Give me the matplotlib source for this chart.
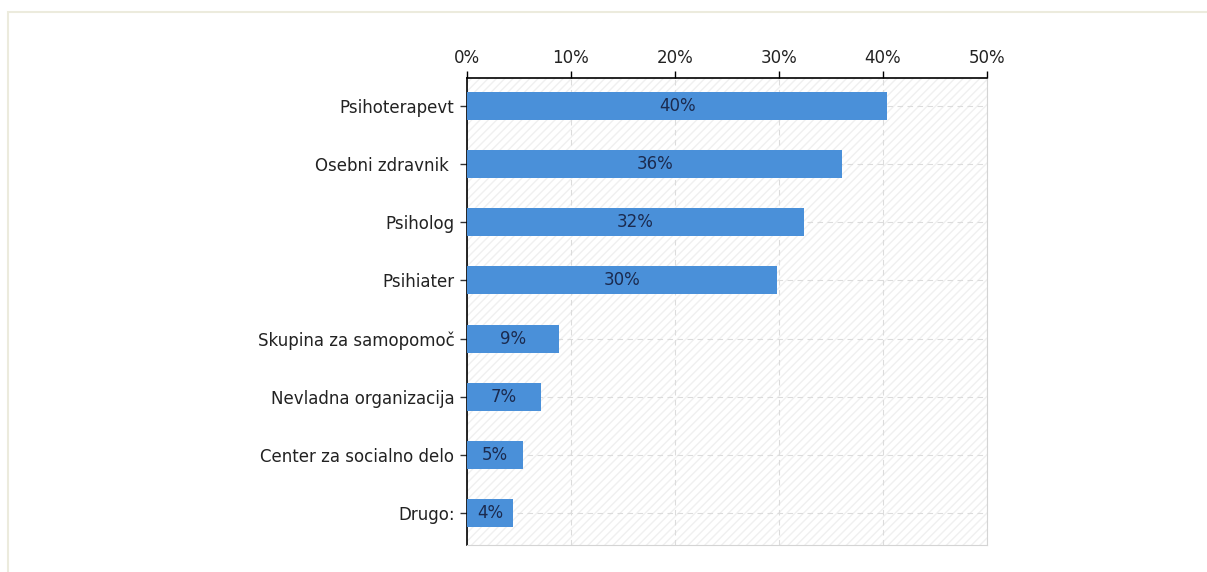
import matplotlib
matplotlib.use("Agg")
import matplotlib.pyplot as plt
from matplotlib.patches import Rectangle

plt.rcParams["font.family"] = ["DejaVu Sans"]

categories = [
    "Psihoterapevt",
    "Osebni zdravnik ",
    "Psiholog",
    "Psihiater",
    "Skupina za samopomoč",
    "Nevladna organizacija",
    "Center za socialno delo",
    "Drugo:",
]
values = [40.4, 36.1, 32.4, 29.8, 8.8, 7.1, 5.4, 4.4]
xticks = [0, 10, 20, 30, 40, 50]
xtick_labels = ["0%", "10%", "20%", "30%", "40%", "50%"]

W, H = 1207, 572
fig = plt.figure(figsize=(W / 100, H / 100), dpi=100)
fig.patch.set_facecolor("white")

# outer frame
fig.patches.append(Rectangle((8 / W, -0.05), (W - 8 + 20) / W, 1.05 - 12 / H,
                             transform=fig.transFigure, fill=False,
                             edgecolor="#ecebdd", linewidth=1.5))

ax = fig.add_axes([467 / W, 1 - 545 / H, 520 / W, 467 / H])
ax.patch.set_facecolor("white")
ax.patch.set_hatch("////")
ax.patch.set_edgecolor("#f0f0f0")
ax.patch.set_linewidth(0)

ypos = list(range(len(categories)))
ax.barh(ypos, values, height=0.48, color="#4a90d9", zorder=3)
for y, v in zip(ypos, values):
    ax.text(v / 2, y, f"{round(v):d}%", ha="center", va="center",
            fontsize=12, color="#1b2a4e", zorder=4)

ax.set_xlim(0, 50)
ax.set_ylim(7.55, -0.48)
ax.set_xticks(xticks)
ax.set_xticklabels(xtick_labels)
ax.set_yticks(ypos)
ax.set_yticklabels(categories)

ax.xaxis.tick_top()
ax.tick_params(axis="x", which="both", direction="out", length=5, width=1,
               colors="black", labelsize=12, pad=3, bottom=False,
               labelcolor="#222222")
ax.tick_params(axis="y", which="both", direction="out", length=5, width=1,
               colors="#333333", labelsize=12, pad=4, labelcolor="#222222")

ax.grid(axis="x", color="#dcdcdc", linestyle=(0, (5, 4)), linewidth=0.8, zorder=1)
ax.grid(axis="y", color="#dcdcdc", linestyle=(0, (5, 4)), linewidth=0.8, zorder=1)
ax.set_axisbelow(True)

ax.spines["top"].set_color("black")
ax.spines["top"].set_linewidth(1.2)
ax.spines["left"].set_color("black")
ax.spines["left"].set_linewidth(1.2)
ax.spines["right"].set_color("#d4d4d4")
ax.spines["bottom"].set_color("#d4d4d4")

fig.savefig("out.png", dpi=100)
